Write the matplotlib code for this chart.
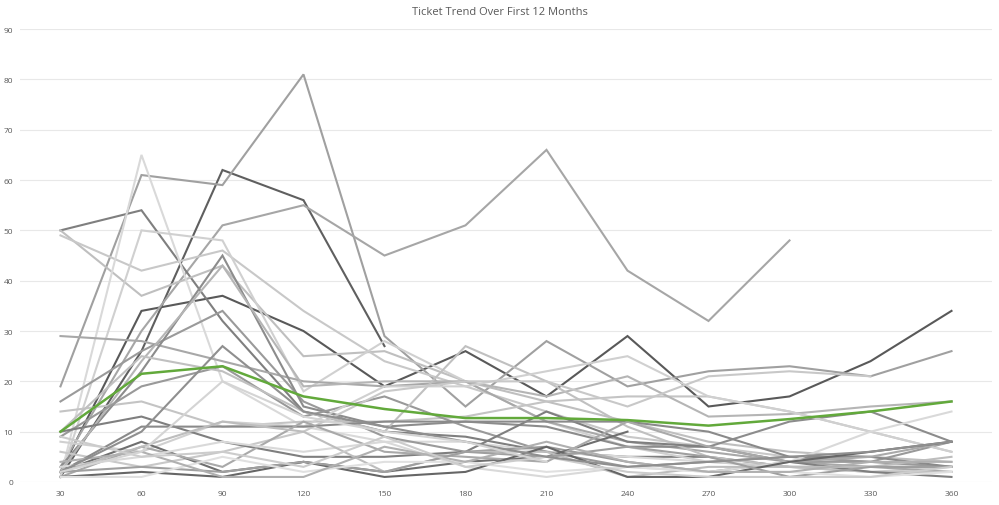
# Ticket trend over first 12 months: one grey line per account + green average
import numpy as np
import matplotlib.pyplot as plt

nan = np.nan

# -------------------- Data --------------------
days = [30, 60, 90, 120, 150, 180, 210, 240, 270, 300, 330, 360]

s01 = [2, 34, 37, 30, 19, 26, 17, 29, 15, 17, 24, 34]
s02 = [1, 26, 62, 56, 27, nan, nan, nan, nan, nan, nan, nan]
s03 = [19, 61, 59, 81, 29, 15, 28, 19, 22, 23, 21, 26]
s04 = [3, 30, 51, 55, 45, 51, 66, 42, 32, 48, nan, nan]
s05 = [50, 54, 32, 14, 10, 9, 6, 5, 5, 3, 3, 3]
s06 = [50, 37, 43, 25, 26, 20, 16, 12, 8, 6, 5, 4]
s07 = [49, 42, 46, 34, 24, 19, 14, 9, 7, 5, 4, 3]
s08 = [1, 65, 20, 11, 8, 8, 6, 5, 4, 3, 2, 2]
s09 = [1, 50, 48, 18, 28, 20, 12, 7, 4, 3, 2, 3]
s10 = [29, 28, 24, 20, 19, 20, 12, 8, 6, 4, 3, 2]
s11 = [16, 26, 34, 16, 9, 6, 7, 4, 2, 4, 4, 3]
s12 = [14, 16, 11, 12, 12, 13, 16, 17, 17, 14, 10, 6]
s13 = [3, 22, 45, 15, 11, 12, 11, 7, 7, 12, 14, 8]
s14 = [2, 24, 43, 19, 20, 20, 17, 21, 13, 13.5, 15, 16]
s15 = [9, 19, 23, 13, 17, 11, 6, 3, 4, 5, 4, 8]
s16 = [10, 25, 22, 14, 10, 27, 20, 11, 5, 3, 2, 2]
s17 = [8, 6, 12, 11, 19, 19, 22, 25, 17, 14, 10, 6]
s18 = [6, 3, 6, 10, 18, 20, 20, 15, 21, 22, 21, nan]
s19 = [10, 13, 8, 5, 5, 6, 14, 8, 7, 4, 2, 1]
s20 = [2, 11, 11, 11, 12, 12, 12, 12, 10, 5, 5, 3]
s21 = [2, 8, 2, 4, 2, 4, 5, 10, nan, nan, nan, nan]
s22 = [1, 7, 3, 12, 6, 5, 4, 12, 7, 4, 5, 8]
s23 = [3, 5, 8, 6, 8, 3, 1, 3, 2, 4, 10, 14]
s24 = [2, 7, 12, 10, 2, 6, 6, 1, 3, 3, 3, 5]
s25 = [1, 2, 1, 4, 1, 2, 7, 1, 1, 4, 6, 8]
s26 = [2, 3, 2, 4, 2, 6, 5, 7, 5, 1, 3, 3]
s27 = [1, 1, 5, 2, 4, 4, 2, 3, 2, 2, 1, 2]
s28 = [4, 6, 1, 1, 7, 4, 8, 4, 2, 2, 4, 4]
s29 = [9, 5, 6, 3, 9, 3, 5, 2, 1, 1, 1, 3]
s30 = [2, 10, 27, 14, 11, 8, 5, 3, 4, 5, 6, 8]
s31 = [2, 6, 20, 13, 10, 8, 4, nan, nan, nan, nan, nan]

average = [10, 21.5, 23, 17, 14.5, 12.7, 12.7, 12.3, 11.2, 12.5, 14, 16]

series = [s01, s02, s03, s04, s05, s06, s07, s08, s09, s10, s11, s12, s13, s14, s15, s16,
          s17, s18, s19, s20, s21, s22, s23, s24, s25, s26, s27, s28, s29, s30, s31]

greys = ["#595959", "#5f5f5f", "#a0a0a0", "#a6a6a6", "#7f7f7f", "#bfbfbf", "#c8c8c8", "#d9d9d9",
         "#d0d0d0", "#a8a8a8", "#9a9a9a", "#c4c4c4", "#8c8c8c", "#b5b5b5", "#999999", "#c0c0c0",
         "#d0d0d0", "#c8c8c8", "#7f7f7f", "#8a8a8a", "#6f6f6f", "#a9a9a9", "#d9d9d9", "#bdbdbd",
         "#666666", "#9f9f9f", "#e0e0e0", "#b0b0b0", "#cccccc", "#8f8f8f", "#d4d4d4"]

# -------------------- Plot --------------------
plt.rcParams["font.family"] = ["Open Sans", "DejaVu Sans"]
fig = plt.figure(figsize=(9.99, 5.06), dpi=100)
ax = fig.add_axes([0.02, 0.0455, 0.973, 0.895])

for vals, col in zip(series, greys):
    ax.plot(days, vals, color=col, lw=1.5, solid_joinstyle="miter", zorder=2)
ax.plot(days, average, color="#62a93b", lw=1.8, zorder=3)

ax.set_xlim(15, 375)
ax.set_ylim(0, 90)
ax.set_xticks(days)
ax.set_yticks(np.arange(0, 91, 10))
ax.tick_params(length=0, labelsize=6, colors="#595959")
ax.tick_params(axis="y", pad=5)
ax.tick_params(axis="x", pad=6)
ax.grid(axis="y", color="#e8e8e8", lw=0.8, zorder=0)
ax.set_axisbelow(True)
for sp in ax.spines.values():
    sp.set_visible(False)

fig.text(0.5, 0.975, "Ticket Trend Over First 12 Months", ha="center", va="center",
         fontsize=8, color="#595959")

fig.savefig("out.png", dpi=100)
